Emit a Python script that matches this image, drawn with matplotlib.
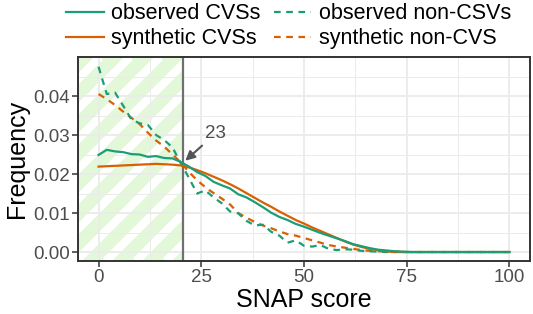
import numpy as np
import matplotlib
matplotlib.use('Agg')
import matplotlib.pyplot as plt
from matplotlib.patches import Rectangle
from matplotlib.lines import Line2D

plt.rcParams['font.family'] = ['Liberation Sans', 'DejaVu Sans']

# SNAP score grid (step 2)
score = np.arange(0, 101, 2)

# observed CVSs (green, solid)
obs_cvs = [0.0249, 0.0262, 0.0258, 0.0256, 0.0251, 0.0250, 0.0244, 0.0246, 0.0241, 0.0240,
           0.0231, 0.0219, 0.0205, 0.0195, 0.0180, 0.0171, 0.0163, 0.0148, 0.0140, 0.0128,
           0.0115, 0.0101, 0.0090, 0.0082, 0.0072, 0.0065, 0.0057, 0.0049, 0.0042, 0.0035,
           0.0028, 0.0020, 0.0015, 0.0010, 0.0006, 0.0004, 0.0002, 0.0001, 0.0, 0.0,
           0.0, 0.0, 0.0, 0.0, 0.0, 0.0, 0.0, 0.0, 0.0, 0.0, 0.0]

# observed non-CSVs (green, dashed)
obs_non = [0.0475, 0.0405, 0.0409, 0.0375, 0.0340, 0.0330, 0.0326, 0.0300, 0.0287, 0.0268,
           0.0228, 0.0190, 0.0150, 0.0158, 0.0140, 0.0125, 0.0104, 0.0099, 0.0080, 0.0068,
           0.0070, 0.0052, 0.0042, 0.0024, 0.0030, 0.0016, 0.0014, 0.0018, 0.0008, 0.0005,
           0.0007, 0.0006, 0.0003, 0.0002, 0.0001, 0.0, 0.0, 0.0, 0.0, 0.0,
           0.0, 0.0, 0.0, 0.0, 0.0, 0.0, 0.0, 0.0, 0.0, 0.0, 0.0]

# synthetic CVSs (orange, solid)
syn_cvs = [0.0219, 0.0220, 0.0221, 0.0222, 0.0223, 0.0224, 0.0225, 0.0226, 0.0225, 0.0224,
           0.0222, 0.0217, 0.0210, 0.0202, 0.0193, 0.0184, 0.0174, 0.0163, 0.0151, 0.0139,
           0.0127, 0.0116, 0.0104, 0.0093, 0.0082, 0.0073, 0.0063, 0.0054, 0.0045, 0.0036,
           0.0027, 0.0019, 0.0013, 0.0008, 0.0005, 0.0002, 0.0001, 0.0, 0.0, 0.0,
           0.0, 0.0, 0.0, 0.0, 0.0, 0.0, 0.0, 0.0, 0.0, 0.0, 0.0]

# synthetic non-CVS (orange, dashed)
syn_non = [0.0405, 0.0392, 0.0377, 0.0360, 0.0344, 0.0328, 0.0306, 0.0286, 0.0270, 0.0250,
           0.0230, 0.0205, 0.0184, 0.0166, 0.0151, 0.0137, 0.0122, 0.0100, 0.0088, 0.0077,
           0.0068, 0.0061, 0.0053, 0.0046, 0.0042, 0.0036, 0.0030, 0.0024, 0.0018, 0.0014,
           0.0011, 0.0008, 0.0005, 0.0003, 0.0002, 0.0001, 0.0, 0.0, 0.0, 0.0,
           0.0, 0.0, 0.0, 0.0, 0.0, 0.0, 0.0, 0.0, 0.0, 0.0, 0.0]

cutoff_pos = 20.5
cutoff_label = '23'

green = '#1B9E77'
orange = '#D95F02'
tick_grey = '#4D4D4D'

fig = plt.figure(figsize=(5.33, 3.14), dpi=100)
ax = fig.add_axes([78 / 533, 1 - 261 / 314, (530 - 78) / 533, (261 - 57) / 314])
ax.set_xlim(-5, 105)
ax.set_ylim(-0.0023, 0.0500)

# shaded region left of the cutoff, with white diagonal stripes
ylo, yhi = ax.get_ylim()
rect = Rectangle((-5, ylo), cutoff_pos + 5, yhi - ylo, facecolor='#E3F7D9',
                 edgecolor='none', zorder=0.1)
ax.add_patch(rect)
w_px, h_px = 452.0, 204.0
for x0 in np.arange(-1.0, 0.3, 30 / w_px):
    ln = Line2D([x0, x0 + h_px / w_px], [0, 1], transform=ax.transAxes,
                color='white', lw=6, zorder=0.2, solid_capstyle='butt')
    ln.set_clip_path(rect)
    ax.add_line(ln)

ax.set_axisbelow(True)
ax.set_xticks([0, 25, 50, 75, 100])
ax.set_xticks([12.5, 37.5, 62.5, 87.5], minor=True)
ax.set_yticks([0.0, 0.01, 0.02, 0.03, 0.04])
ax.set_yticks([0.005, 0.015, 0.025, 0.035, 0.045], minor=True)
ax.set_yticklabels(['0.00', '0.01', '0.02', '0.03', '0.04'])
ax.grid(which='major', color='#EBEBEB', lw=1.3)
ax.grid(which='minor', color='#EBEBEB', lw=0.7)
ax.tick_params(which='major', length=4, width=1.1, color='#333333', labelsize=13.5,
               labelcolor=tick_grey, pad=2)
ax.tick_params(which='minor', length=0)
for sp in ax.spines.values():
    sp.set_color('#333333')
    sp.set_linewidth(1.4)

ax.axvline(cutoff_pos, color='#707070', lw=1.6, zorder=1.5)

dash = (3, 2.5)
l4, = ax.plot(score, syn_non, color=orange, lw=1.6, ls=(0, dash))
l3, = ax.plot(score, obs_non, color=green, lw=1.6, ls=(0, dash))
l2, = ax.plot(score, syn_cvs, color=orange, lw=1.6)
l1, = ax.plot(score, obs_cvs, color=green, lw=1.6)

ax.annotate(cutoff_label, xy=(21.1, 0.0234), xytext=(28.5, 0.0304),
            ha='center', va='center', fontsize=13.5, color=tick_grey,
            arrowprops=dict(arrowstyle='-|>', color='#555555', lw=1.5,
                            mutation_scale=14, shrinkA=1, shrinkB=0))

ax.set_xlabel('SNAP score', fontsize=18, labelpad=1)
ax.set_ylabel('Frequency', fontsize=18, labelpad=3)

fig.legend([l1, l2, l3, l4],
           ['observed CVSs', 'synthetic CVSs', 'observed non-CSVs', 'synthetic non-CVS'],
           ncol=2, loc='upper left', bbox_to_anchor=(66 / 533, 0.99), frameon=False,
           fontsize=15.5, handlelength=1.75, handletextpad=0.35, columnspacing=0.6,
           labelspacing=0.2, borderpad=0, borderaxespad=0)

fig.savefig('out.png', dpi=100)
